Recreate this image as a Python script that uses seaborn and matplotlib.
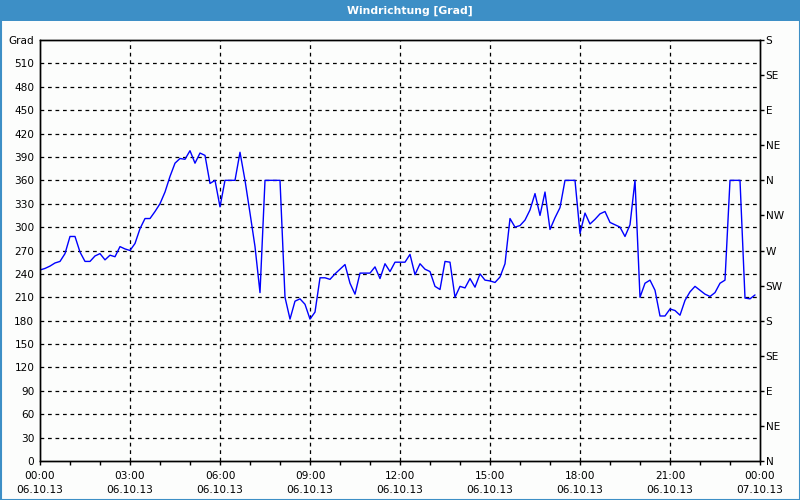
import numpy as np
import pandas as pd
import matplotlib
matplotlib.use("Agg")
import matplotlib.pyplot as plt
from matplotlib.patches import Rectangle
from matplotlib.ticker import MultipleLocator
import seaborn as sns

# ---------------- data ----------------
title = "Windrichtung [Grad]"
# wind direction in degrees, 10-minute samples from 06.10.13 00:00 to 23:50
direction = [
    245, 247, 250, 254, 256, 266, 288, 288, 268, 256, 256, 263, 266, 258, 264, 262, 275, 272,
    270, 279, 298, 311, 311, 320, 330, 345, 365, 382, 388,
    387, 398, 382, 395, 392, 356, 360, 326, 360, 360, 360, 396, 360, 318, 275, 216, 360, 360,
    360, 360, 210, 182, 205, 208, 201, 182, 191, 235, 235,
    233, 240, 246, 252, 228, 214, 241, 241, 241, 249, 234, 253, 243, 255, 255, 255, 265, 239,
    253, 246, 243, 224, 220, 256, 255, 210, 224, 222, 234,
    223, 240, 232, 231, 229, 236, 253, 311, 300, 302, 309, 322, 343, 315, 345, 297, 312, 325,
    360, 360, 360, 292, 318, 304, 310, 317, 320, 306,
    303, 300, 288, 303, 360, 210, 228, 232, 219, 186, 186, 195, 193, 187, 206, 217, 224, 219,
    214, 211, 216, 228, 232, 360, 360, 360, 209, 208, 213,
]
sample_minutes = 10
x_tick_hours = [0, 3, 6, 9, 12, 15, 18, 21, 24]
x_tick_labels = ["00:00\n06.10.13", "03:00\n06.10.13", "06:00\n06.10.13", "09:00\n06.10.13",
                 "12:00\n06.10.13", "15:00\n06.10.13", "18:00\n06.10.13", "21:00\n06.10.13",
                 "00:00\n07.10.13"]
y_left_ticks = list(range(0, 541, 30))
y_left_labels = [str(v) for v in range(0, 511, 30)] + ["Grad"]
y_right_ticks = list(range(0, 541, 45))
y_right_labels = ["N", "NE", "E", "SE", "S", "SW", "W", "NW", "N", "NE", "E", "SE", "S"]

hours = np.arange(len(direction)) * sample_minutes / 60.0
df = pd.DataFrame({"hour": hours, "deg": direction})

# ---------------- style ----------------
sns.set_theme(style="white")
plt.rcParams["font.family"] = ["DejaVu Sans"]
bg = "#fcfdfc"
frame_blue = "#3d8fc6"
fs = 7.6

fig = plt.figure(figsize=(8, 5), dpi=100, facecolor=bg)
ax = fig.add_axes([40 / 800, 39 / 500, 720 / 800, 421 / 500])
ax.set_facecolor(bg)

sns.lineplot(data=df, x="hour", y="deg", ax=ax, color="#0000ff", linewidth=1.0)

ax.set_xlim(0, 24)
ax.set_ylim(0, 540)
ax.set_xlabel("")
ax.set_ylabel("")

# grid
for yv in y_left_ticks[1:-1]:
    ax.axhline(yv, color="black", lw=0.9, ls=(0, (3, 3)), zorder=0.5)
for xv in x_tick_hours[1:-1]:
    ax.axvline(xv, color="black", lw=0.9, ls=(0, (3, 3)), zorder=0.5)

for s in ax.spines.values():
    s.set_color("black")
    s.set_linewidth(1.0)

ax.set_yticks(y_left_ticks, y_left_labels)
ax.tick_params(axis="y", left=False, length=0, pad=4, labelsize=fs, labelcolor="black")
ax.set_xticks(x_tick_hours, x_tick_labels)
ax.xaxis.set_minor_locator(MultipleLocator(1))
ax.tick_params(axis="x", which="both", bottom=True, direction="out", length=3, width=1,
               color="black", pad=4, labelsize=fs, labelcolor="black")
for lbl in ax.get_xticklabels():
    lbl.set_linespacing(1.55)

ax2 = ax.twinx()
ax2.set_ylim(0, 540)
ax2.set_yticks(y_right_ticks, y_right_labels)
ax2.tick_params(axis="y", right=True, direction="out", length=3, width=1, color="black",
                pad=1, labelsize=fs, labelcolor="black")
ax2.grid(False)
for s in ax2.spines.values():
    s.set_color("black")
    s.set_linewidth(1.0)

# window frame and title bar
fig.patches.append(Rectangle((0, 1 - 21 / 500), 1, 21 / 500, transform=fig.transFigure,
                             facecolor=frame_blue, edgecolor="none", zorder=-1))
fig.patches.append(Rectangle((0.5 / 800, 0.5 / 500), 799 / 800, 499 / 500, transform=fig.transFigure,
                             facecolor="none", edgecolor=frame_blue, lw=1.5, zorder=-1))
fig.text(410 / 800, 1 - 11 / 500, title, color="white", fontsize=7.8, fontweight="bold",
         ha="center", va="center")

fig.savefig("out.png", dpi=100, facecolor=bg)
